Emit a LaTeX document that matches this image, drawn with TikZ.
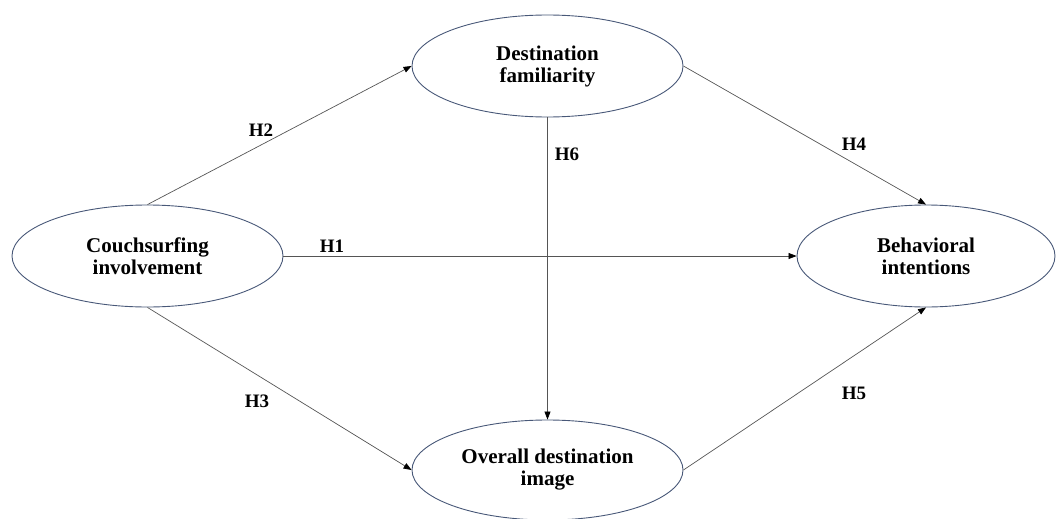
\documentclass[tikz,border=0pt]{standalone}
\usepackage{fontspec}
\setmainfont{Liberation Serif}
\usetikzlibrary{shapes.geometric,arrows.meta}
\definecolor{ellcol}{RGB}{72,88,120}
\definecolor{linecol}{RGB}{85,85,85}
\tikzset{
  construct/.style={ellipse, draw=ellcol, line width=0.9pt, inner sep=0pt,
    minimum width=271pt, minimum height=102pt, align=center,
    font=\fontsize{21}{22}\selectfont\bfseries},
  hyp/.style={font=\fontsize{19}{20}\selectfont\bfseries, inner sep=0pt},
  path/.style={draw=linecol, line width=0.7pt, -{Triangle[length=8pt,width=6pt,black]}}
}
\begin{document}
\begin{tikzpicture}[x=1pt,y=-1pt]
\useasboundingbox (0,0) rectangle (1057,519);
\node[construct] (cs) at (147.5,256) {Couchsurfing\\involvement};
\node[construct] (df) at (547.5,66) {Destination\\familiarity};
\node[construct, minimum width=258pt] (bi) at (926,256) {Behavioral\\intentions};
\node[construct, minimum height=100pt] (od) at (547.5,470) {Overall destination\\image};
\draw[path] (cs.north) -- (df.west);
\draw[path] (cs.south) -- (od.west);
\draw[path] (cs.east) -- (bi.west);
\draw[path] (df.south) -- (od.north);
\draw[path] (df.east) -- (bi.north);
\draw[path] (od.east) -- (bi.south);
\node[hyp] (h1) at (332,246) {H1};
\node[hyp] (h2) at (261,130) {H2};
\node[hyp] (h3) at (257,401) {H3};
\node[hyp] (h4) at (854,144) {H4};
\node[hyp] (h5) at (854,393) {H5};
\node[hyp] (h6) at (567,154) {H6};
\end{tikzpicture}
\end{document}
